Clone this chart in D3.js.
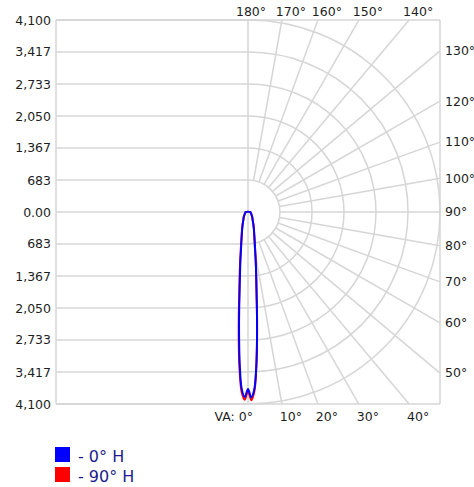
<!DOCTYPE html>
<html>
<head>
<meta charset="utf-8">
<script src="https://cdn.jsdelivr.net/npm/d3@7"></script>
<style>
  body { margin: 0; background: #fff; }
  text { font-family: "DejaVu Sans", Verdana, sans-serif; }
</style>
</head>
<body>
<div id="my_dataviz"></div>
<script>

// intensity rings (cd) and their labels
var ringValues = [683, 1367, 2050, 2733, 3417, 4100];
var ringLabels = ["683", "1,367", "2,050", "2,733", "3,417", "4,100"];
var zeroLabel = "0.00";

// angle grid lines (degrees, 0 = straight down)
var angleTicks = [0, 10, 20, 30, 40, 50, 60, 70, 80, 90, 100, 110, 120, 130, 140, 150, 160, 170, 180];

// vertical angles of the measured curves
var vaAngles = [0, 1, 2, 3, 4, 5, 6, 7, 8, 9, 10, 12, 15, 20, 25, 30, 40, 50, 60, 70, 80, 90];

// 0° H plane (C0 right, C180 left)
var c0   = [3780, 3960, 3800, 3340, 2750, 2200, 1750, 1450, 1230, 1050, 900, 700, 520, 360, 260, 200, 140, 100, 80, 65, 58, 53];
var c180 = [3780, 3950, 3790, 3320, 2720, 2170, 1720, 1420, 1200, 1030, 880, 690, 515, 355, 258, 200, 140, 100, 80, 65, 58, 53];
// 90° H plane (C90 right, C270 left)
var c90  = [3830, 4020, 3840, 3360, 2770, 2210, 1760, 1455, 1235, 1055, 905, 705, 522, 362, 262, 200, 140, 100, 80, 65, 58, 53];
var c270 = [3830, 4010, 3850, 3400, 2820, 2260, 1800, 1490, 1260, 1075, 920, 715, 528, 365, 264, 202, 142, 100, 80, 65, 58, 53];

var seriesNames = ["- 0° H", "- 90° H"];
var seriesColors = ["#0000ff", "#ff0000"];

var W = 474, H = 487;
var margin = {left: 56, top: 20, right: 440, bottom: 404};
var cx = 248, cy = 212, R = 192;
var gridColor = "#d6d6d6";
var textColor = "#1e1e1e";

var svg = d3.select("#my_dataviz")
    .append("svg")
        .attr("width", W)
        .attr("height", H);

var r = d3.scaleLinear().domain([0, 4100]).range([0, R]);
var y = d3.scaleLinear().domain([4100, -4100]).range([margin.top, margin.bottom]);

var grid = svg.append("g")
    .attr("fill", "none")
    .attr("stroke", gridColor)
    .attr("stroke-width", 1.5);

// left half: horizontal lines
var yTicks = ringValues.slice().reverse().concat([0]).concat(ringValues.map(function(d) { return -d; }));
grid.selectAll("line.h")
    .data(yTicks)
    .enter()
    .append("line")
    .attr("x1", margin.left).attr("x2", cx)
    .attr("y1", function(d) { return y(d); })
    .attr("y2", function(d) { return y(d); });

// frame
grid.append("line").attr("x1", margin.left).attr("x2", margin.right).attr("y1", margin.top).attr("y2", margin.top);
grid.append("line").attr("x1", margin.left).attr("x2", margin.right).attr("y1", margin.bottom).attr("y2", margin.bottom);
grid.append("line").attr("x1", margin.left).attr("x2", margin.left).attr("y1", margin.top).attr("y2", margin.bottom);
grid.append("line").attr("x1", margin.right).attr("x2", margin.right).attr("y1", margin.top).attr("y2", margin.bottom);
grid.append("line").attr("x1", cx).attr("x2", cx).attr("y1", margin.top).attr("y2", margin.bottom);

// right half: rings
var arc = d3.arc()
    .innerRadius(function(d) { return r(d); })
    .outerRadius(function(d) { return r(d); })
    .startAngle(0)
    .endAngle(Math.PI);
grid.selectAll("path.ring")
    .data(ringValues)
    .enter()
    .append("path")
    .attr("transform", "translate(" + cx + "," + cy + ")")
    .attr("d", arc);

// where a ray from the centre meets the frame
function rayEnd(a) {
    var t = a * Math.PI / 180;
    var sx = Math.sin(t), sy = Math.cos(t);
    var best = Infinity, side = "";
    if (sx > 1e-6) { var tx = (margin.right - cx) / sx; if (tx < best) { best = tx; side = "right"; } }
    if (sy > 1e-6) { var tb = (margin.bottom - cy) / sy; if (tb < best) { best = tb; side = "bottom"; } }
    if (sy < -1e-6) { var tt = (cy - margin.top) / -sy; if (tt < best) { best = tt; side = "top"; } }
    return { x: cx + sx * best, y: cy + sy * best, side: side };
}

var r0 = r(ringValues[0]);
grid.selectAll("line.ray")
    .data(angleTicks.filter(function(d) { return d > 0 && d < 180; }))
    .enter()
    .append("line")
    .attr("x1", function(d) { return cx + r0 * Math.sin(d * Math.PI / 180); })
    .attr("y1", function(d) { return cy + r0 * Math.cos(d * Math.PI / 180); })
    .attr("x2", function(d) { return rayEnd(d).x; })
    .attr("y2", function(d) { return rayEnd(d).y; });

// Y axis labels
var yAxis = d3.axisLeft(y)
    .tickValues(yTicks)
    .tickSize(0)
    .tickPadding(5)
    .tickFormat(function(d) {
        if (d === 0) return zeroLabel;
        return ringLabels[ringValues.indexOf(Math.abs(d))];
    });
var ya = svg.append("g")
    .attr("transform", "translate(" + margin.left + ",0)")
    .call(yAxis);
ya.select(".domain").remove();
ya.selectAll("text")
    .style("font-family", "DejaVu Sans, Verdana, sans-serif")
    .style("font-size", "12.5px")
    .attr("fill", textColor);

// angle labels
svg.selectAll("text.ang")
    .data(angleTicks)
    .enter()
    .append("text")
    .attr("fill", textColor)
    .style("font-size", "12.5px")
    .attr("x", function(d) {
        var e = rayEnd(d);
        if (d === 0) return e.x + 5;
        if (d === 180) return e.x + 3;
        if (e.side === "right") return e.x + 5;
        return e.x + 9;
    })
    .attr("y", function(d) {
        var e = rayEnd(d);
        if (e.side === "top") return 12;
        if (e.side === "bottom") return 417;
        return e.y;
    })
    .attr("dy", "0.35em")
    .attr("text-anchor", function(d) {
        var e = rayEnd(d);
        if (d === 0) return "end";
        if (e.side === "right") return "start";
        return "middle";
    })
    .text(function(d) { return (d === 0 ? "VA: " : "") + d + "°"; });

// curves: right half then the mirrored half back up, closed at the bottom
function curvePoints(rightVals, leftVals) {
    var pts = [];
    for (var i = 0; i < vaAngles.length; i++) {
        pts.push([Math.PI - vaAngles[i] * Math.PI / 180, r(rightVals[i])]);
    }
    for (var j = vaAngles.length - 1; j > 0; j--) {
        pts.push([Math.PI + vaAngles[j] * Math.PI / 180, r(leftVals[j])]);
    }
    return pts;
}

var line = d3.lineRadial()
    .angle(function(d) { return d[0]; })
    .radius(function(d) { return d[1]; })
    .curve(d3.curveCatmullRomClosed.alpha(0.5));

var curves = [curvePoints(c90, c270), curvePoints(c0, c180)];
var curveColors = [seriesColors[1], seriesColors[0]];

svg.selectAll("path.beam")
    .data(curves)
    .enter()
    .append("path")
    .attr("transform", "translate(" + cx + "," + cy + ")")
    .attr("fill", "none")
    .attr("stroke", function(d, i) { return curveColors[i]; })
    .attr("stroke-width", 2)
    .attr("d", line);

// legend
var legend = svg.selectAll("g.legend")
    .data(seriesNames)
    .enter()
    .append("g")
    .attr("transform", function(d, i) { return "translate(55," + (447 + i * 20) + ")"; });
legend.append("rect")
    .attr("width", 15)
    .attr("height", 15)
    .attr("fill", function(d, i) { return seriesColors[i]; });
legend.append("text")
    .attr("x", 23)
    .attr("y", 15)
    .attr("fill", "#1c1c8a")
    .style("font-size", "16px")
    .text(function(d) { return d; });

</script>
</body>
</html>
